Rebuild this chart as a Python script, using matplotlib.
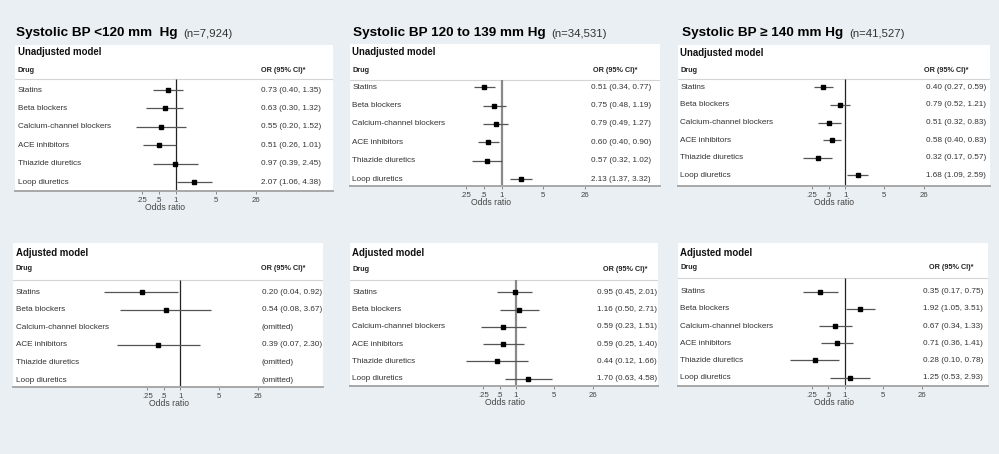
import numpy as np
import matplotlib
matplotlib.use("Agg")
import matplotlib.pyplot as plt
from matplotlib.transforms import blended_transform_factory

# ---------------- data ----------------
drugs = ["Statins", "Beta blockers", "Calcium-channel blockers",
         "ACE inhibitors", "Thiazide diuretics", "Loop diuretics"]
ticks = [0.25, 0.5, 1, 5, 26]
tick_labels = [".25", ".5", "1", "5", "26"]

groups = ["Systolic BP <120 mm  Hg", "Systolic BP 120 to 139 mm Hg",
          "Systolic BP \u2265 140 mm Hg"]
group_n = ["(n=7,924)", "(n=34,531)", "(n=41,527)"]
models = ["Unadjusted model", "Adjusted model"]

nan = np.nan
# Unadjusted model
or_u_lt120 = [0.73, 0.63, 0.55, 0.51, 0.97, 2.07]
lo_u_lt120 = [0.40, 0.30, 0.20, 0.26, 0.39, 1.06]
hi_u_lt120 = [1.35, 1.32, 1.52, 1.01, 2.45, 4.38]

or_u_120 = [0.51, 0.75, 0.79, 0.60, 0.57, 2.13]
lo_u_120 = [0.34, 0.48, 0.49, 0.40, 0.32, 1.37]
hi_u_120 = [0.77, 1.19, 1.27, 0.90, 1.02, 3.32]

or_u_140 = [0.40, 0.79, 0.51, 0.58, 0.32, 1.68]
lo_u_140 = [0.27, 0.52, 0.32, 0.40, 0.17, 1.09]
hi_u_140 = [0.59, 1.21, 0.83, 0.83, 0.57, 2.59]

# Adjusted model (nan = omitted)
or_a_lt120 = [0.20, 0.54, nan, 0.39, nan, nan]
lo_a_lt120 = [0.04, 0.08, nan, 0.07, nan, nan]
hi_a_lt120 = [0.92, 3.67, nan, 2.30, nan, nan]

or_a_120 = [0.95, 1.16, 0.59, 0.59, 0.44, 1.70]
lo_a_120 = [0.45, 0.50, 0.23, 0.25, 0.12, 0.63]
hi_a_120 = [2.01, 2.71, 1.51, 1.40, 1.66, 4.58]

or_a_140 = [0.35, 1.92, 0.67, 0.71, 0.28, 1.25]
lo_a_140 = [0.17, 1.05, 0.34, 0.36, 0.10, 0.53]
hi_a_140 = [0.75, 3.51, 1.33, 1.41, 0.78, 2.93]

# ---------------- layout (pixels) ----------------
W, H = 999, 454
BG = "#e9eff2"
TXT = "#333333"

panels = [
    dict(model=0, grp=0, d=(or_u_lt120, lo_u_lt120, hi_u_lt120), box=(15, 45, 333, 191), x1=176, s=17.1,
         r0=90, r5=182, hline=79, my=52, dy=70, vx=260.7, hx=260.7, rc="#222222", rlw=0.9, ms=2.8),
    dict(model=0, grp=1, d=(or_u_120, lo_u_120, hi_u_120), box=(350, 44, 660, 186), x1=501.6, s=17.8,
         r0=87.3, r5=179, hline=80, my=51.7, dy=70, vx=591, hx=593, rc="#8a8a8a", rlw=1.6, ms=2.6),
    dict(model=0, grp=2, d=(or_u_140, lo_u_140, hi_u_140), box=(678, 45, 990, 186), x1=845.4, s=16.7,
         r0=87.3, r5=175.3, hline=79, my=53.3, dy=70, vx=925.5, hx=924, rc="#222222", rlw=0.9, ms=2.8),
    dict(model=1, grp=0, d=(or_a_lt120, lo_a_lt120, hi_a_lt120), box=(13, 243, 323, 387), x1=180.3, s=16.5,
         r0=292.3, r5=380, hline=280, my=253.3, dy=269, vx=261.5, hx=261, rc="#222222", rlw=0.9, ms=2.2),
    dict(model=1, grp=1, d=(or_a_120, lo_a_120, hi_a_120), box=(350, 243, 658, 386), x1=515.9, s=16.3,
         r0=292.3, r5=378.7, hline=280, my=253.3, dy=270, vx=596.7, hx=603.3, rc="#8a8a8a", rlw=1.6, ms=2.2),
    dict(model=1, grp=2, d=(or_a_140, lo_a_140, hi_a_140), box=(678, 243, 988, 386), x1=844.8, s=16.4,
         r0=291.7, r5=377.7, hline=278.3, my=252.7, dy=267.3, vx=923.3, hx=929.3, rc="#222222", rlw=0.9, ms=2.2),
]

title_pos = [(16, 36), (352.7, 36), (681.7, 36)]

plt.rcParams["font.family"] = ["Liberation Sans", "DejaVu Sans"]

fig = plt.figure(figsize=(W / 100, H / 100), dpi=100)
fig.patch.set_facecolor(BG)

# titles
for g in range(3):
    tx, ty = title_pos[g]
    t = fig.text(tx / W, 1 - ty / H, groups[g], fontsize=9.7, fontweight="bold",
                 color="black", ha="left", va="baseline")
    fig.add_artist(plt.Annotation(group_n[g], xy=(1, 0), xycoords=t,
                                  xytext=(4.5, 0), textcoords="offset points",
                                  fontsize=8.2, color=TXT, ha="left", va="bottom"))

for p in panels:
    L, T, R, B = p["box"]
    ax = fig.add_axes([L / W, 1 - B / H, (R - L) / W, (B - T) / H])
    ax.set_facecolor("white")
    ors, los, his = p["d"]
    ors = np.array(ors, float); los = np.array(los, float); his = np.array(his, float)
    y = np.arange(len(drugs))

    d = (p["r5"] - p["r0"]) / 5.0
    ytop = (T - p["r0"]) / d
    ybot = (B - p["r0"]) / d
    ax.set_ylim(ybot, ytop)
    ax.set_xscale("log", base=2)
    ax.set_xlim(2 ** ((L - p["x1"]) / p["s"]), 2 ** ((R - p["x1"]) / p["s"]))

    yh = (p["hline"] - p["r0"]) / d
    ax.axhline(yh, color="#d4d4d4", lw=0.8)
    ax.vlines(1, yh, ybot, color=p["rc"], lw=p["rlw"], zorder=2)

    ok = ~np.isnan(ors)
    ax.hlines(y[ok], los[ok], his[ok], color="#555555", lw=0.9, zorder=3)
    ax.plot(ors[ok], y[ok], "s", color="black", ms=p["ms"], zorder=4)

    tr = blended_transform_factory(ax.transAxes, ax.transData)
    fx = lambda px: (px - L) / (R - L)
    for i, name in enumerate(drugs):
        ax.text(fx(L + 2.5), i, name, transform=tr, fontsize=5.9, color=TXT,
                ha="left", va="center")
        if np.isnan(ors[i]):
            s = "(omitted)"
        else:
            s = f"{ors[i]:.2f} ({los[i]:.2f}, {his[i]:.2f})"
        ax.text(fx(p["vx"]), i, s, transform=tr, fontsize=5.9, color=TXT,
                ha="left", va="center")

    ax.text(fx(L + 2.5), (p["my"] - p["r0"]) / d, models[p["model"]], transform=tr,
            fontsize=6.9, fontweight="bold", color="#111111", ha="left", va="center")
    ax.text(fx(L + 2.5), (p["dy"] - p["r0"]) / d, "Drug", transform=tr,
            fontsize=5.2, fontweight="bold", color="#222222", ha="left", va="center")
    ax.text(fx(p["hx"]), (p["dy"] - p["r0"]) / d, "OR (95% CI)*", transform=tr,
            fontsize=5.2, fontweight="bold", color="#222222", ha="left", va="center")

    for sp in ["top", "left", "right"]:
        ax.spines[sp].set_visible(False)
    ax.spines["bottom"].set_color("#a8a8a8")
    ax.spines["bottom"].set_linewidth(1.4)
    ax.set_yticks([])
    ax.set_xticks(ticks)
    ax.set_xticklabels(tick_labels)
    ax.minorticks_off()
    ax.tick_params(axis="x", length=2.5, width=0.7, color="#888888", pad=1.8,
                   labelsize=5.6, labelcolor="#444444")
    ax.annotate("Odds ratio", xy=(1, 0), xycoords=("data", "axes fraction"),
                xytext=(-11 * 0.72, -12.2), textcoords="offset points",
                fontsize=6.2, color="#444444", ha="center", va="center",
                annotation_clip=False)

fig.savefig("out.png", dpi=100, facecolor=BG)
